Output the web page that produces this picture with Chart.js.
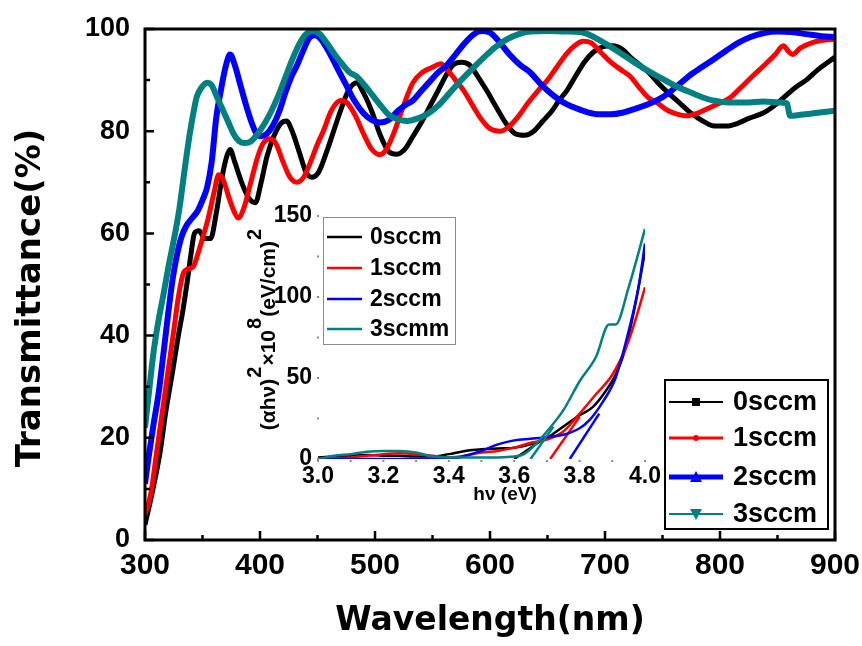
<!DOCTYPE html>
<html>
<head>
<meta charset="utf-8">
<script src="https://cdn.jsdelivr.net/npm/chart.js@4/dist/chart.umd.min.js"></script>
<style>
  html, body { margin: 0; padding: 0; background: #fff; }
  #wrap { position: relative; width: 862px; height: 646px; overflow: hidden; }
  #main { position: absolute; left: 0; top: 0; }
  #inset { position: absolute; left: 230px; top: 195px; }
</style>
</head>
<body>
<div id="wrap">
  <canvas id="main" width="862" height="646"></canvas>
  <canvas id="inset" width="440" height="315"></canvas>
</div>
<script>
// ---- Transmittance spectra (wavelength in nm, T in %) ----
const seriesNames = ['0sccm', '1sccm', '2sccm', '3sccm'];
const insetNames = ['0sccm', '1sccm', '2sccm', '3scmm'];
const seriesColors = ['#000000', '#ff0000', '#0000ff', '#008080'];

const wl0 = [300,305,313,318,324,329,333,337,340,343,347,352,357,362,367,371,374,378,384,390,396,401,406,412,418,423,428,434,440,445,451,458,464,470,477,484,490,497,505,512,519,526,533,541,548,555,562,568,575,582,590,597,606,614,622,630,638,646,654,660,667,675,682,690,698,707,715,722,730,738,746,755,765,775,785,795,806,815,825,838,850,860,867,875,885,900];
const t0  = [3,8,17,25,33,40,45,51,56,60,60.5,59,59,64,71,75,76.4,74,70,67,66,70,75,79,81.5,82,80,76,72,71,72,76,80,84,88,89.5,87.5,84,79,76,75.5,76.5,79,82,85,88,91,93,93.5,93,90.5,88,84.5,81.5,79.5,79.2,80,82,84,86,88,91,93.5,95.5,96.5,96.7,96,94.5,93,91.5,89.5,87.5,85.5,83.5,82,81,81,81.5,82.5,83.6,85.5,87.5,88.8,90,92,94.5];

const wl1 = [300,305,310,315,320,325,329,333,337,342,346,350,355,360,364,368,373,378,381,386,392,398,403,409,414,420,426,432,438,444,450,455,462,470,476,483,490,497,504,510,517,524,533,541,550,557,563,570,577,585,592,600,609,617,625,633,642,650,658,666,674,681,688,696,705,714,722,730,738,745,755,765,771,780,790,800,809,818,828,838,848,855,860,863,870,881,890,900];
const t1  = [5,9,17,25,33,41,47.5,52,53,53.5,56,59,63,68,71.5,70.5,67,64,63,65,70,75,77.7,78.5,77.5,74,71,70,71,74,77.5,80,84,86,85.5,83,79.5,76.5,75.4,76.5,80,84.5,89.5,91.5,92.5,93.2,92,90,88,85,82.5,80.5,80,81,83,85.5,88,90,92.5,95,96.8,97.6,97.3,95.5,93.5,92,90.7,88.5,86.5,85.6,84,83.2,83,83.5,84.5,85.5,86.6,88.5,90.7,92.8,95,96.7,95.5,95,96.3,97.4,97.8,98];

const wl2 = [300,303,307,312,316,320,324,328,332,336,341,346,350,354,358,362,366,370,374,378,383,388,393,397,401,406,411,417,422,427,432,438,443,448,453,460,468,475,482,490,497,504,512,520,527,533,540,548,555,562,570,578,585,592,600,608,617,626,635,645,655,664,675,685,695,705,715,728,740,751,762,773,784,794,805,815,826,838,850,862,875,888,900];
const t2  = [11,16,22,29,36.4,44,51,56,59.5,61.5,63,64.5,66.5,69,74,82.7,88,92.5,95,93,89,85,81.5,79.5,79,79.5,81,84,87.5,90.5,92.8,96,98.3,98.8,98,95.5,92,89,86,83.5,82.2,81.7,82.2,84,85.2,86,87.8,89.8,91.5,92.8,95,97.2,98.8,99.6,99.3,97.5,95,93,91.5,89,87,85.6,84.5,83.7,83.3,83.3,83.6,84.5,85.5,86.8,88.7,90.8,92.5,94,95.7,97.2,98.4,99.2,99.5,99.4,99,98.6,98.4];

const wl3 = [300,303,307,311,316,320,324,327,330,333,336,339,342,345,349,354,358,362,367,372,377,382,387,392,398,404,410,416,422,428,434,440,446,452,458,465,472,478,484,491,498,505,512,520,528,536,545,555,565,575,585,595,605,615,625,635,650,665,678,688,700,712,724,736,748,760,772,784,794,808,822,838,852,858,861,870,885,900];
const t3  = [22,28,36,42,48,53,57.5,61,65,70,75,79.6,83.5,86.7,88.5,89.5,89,87,84.5,82,79.5,78,77.7,78,79.5,81.5,84,87,90.5,94,97,99,99.6,99,97.3,95,93,91.5,90.7,89,87,85,83.2,82.3,82,82.4,83.3,85,87.5,90,92.3,94.5,96.5,98,99,99.5,99.6,99.5,99.4,98.7,97.2,95.5,93.7,92,90.5,89,87.8,86.7,86,85.6,85.6,85.8,85.6,85.5,83,83.2,83.6,84];

// ---- Tauc plot: photon energy (eV) vs (αhν)² ×10⁸ (eV/cm)² ----
const ev0 = [3.00,3.05,3.10,3.15,3.20,3.25,3.30,3.35,3.40,3.45,3.50,3.55,3.60,3.65,3.70,3.75,3.80,3.84,3.88,3.91,3.94,3.97,4.00];
const a0  = [1,1.5,2,2.5,2,2,1.5,1.5,3,5,6,6.5,7,9,13,20,27,32,42,52,68,95,128];
const ev1 = [3.00,3.05,3.10,3.15,3.20,3.25,3.30,3.35,3.40,3.45,3.50,3.55,3.60,3.65,3.70,3.75,3.80,3.85,3.90,3.95,3.98,4.00];
const a1  = [0,0.5,1,2,3,3.5,3,2,1,2,4,5,7,10,12,17,28,40,52,73,92,106];
const ev2 = [3.00,3.10,3.20,3.30,3.40,3.45,3.50,3.55,3.60,3.65,3.70,3.75,3.80,3.83,3.87,3.91,3.95,3.98,4.00];
const a2  = [0,0,0,0,0,2,5,9,11.5,12.5,13.5,15,19,24,35,50,79,106,133];
const ev3 = [3.00,3.05,3.10,3.15,3.20,3.25,3.30,3.35,3.40,3.45,3.50,3.55,3.60,3.63,3.66,3.70,3.75,3.80,3.85,3.89,3.91,3.95,4.00];
const a3  = [0,2,3,4.5,5,5,4,1.5,1,1,1,1,1.5,3,8,17,30,48,63,83,83,106,142];

// linear band-edge extrapolations: [start eV, end eV] and [start value, end value]
const fitEv = [[3.60,3.68],[3.71,3.80],[3.77,3.86],[3.65,3.72]];
const fitA  = [[0,11],[0,26],[0,28],[0,20]];

// tick values
const wlTicks = [300,400,500,600,700,800,900];
const tTicks = [0,20,40,60,80,100];
const evTicks = [3.0,3.2,3.4,3.6,3.8,4.0];
const aTicks = [0,50,100,150];

const pts = (xs, ys) => xs.map((x, i) => ({ x, y: ys[i] }));
const noEdgePad = s => { s.paddingLeft = 0; s.paddingRight = 0; s.paddingTop = 0; s.paddingBottom = 0; };

// ---------------- main chart ----------------
const mainWl = [wl0, wl1, wl2, wl3];
const mainT = [t0, t1, t2, t3];
const lineWidths = [5, 5, 6, 6];

const mainFrame = {
  id: 'mainFrame',
  afterDatasetsDraw(chart) {
    const { ctx, chartArea: a, scales: { x, y } } = chart;
    ctx.save();
    ctx.strokeStyle = '#000';
    ctx.lineWidth = 3;
    ctx.strokeRect(a.left, a.top, a.right - a.left, a.bottom - a.top);
    ctx.lineWidth = 2.5;
    ctx.beginPath();
    for (let i = 0; i < wlTicks.length; i++) {
      const px = x.getPixelForValue(wlTicks[i]);
      ctx.moveTo(px, a.bottom); ctx.lineTo(px, a.bottom - 9);
      if (i < wlTicks.length - 1) {
        const mx = x.getPixelForValue((wlTicks[i] + wlTicks[i + 1]) / 2);
        ctx.moveTo(mx, a.bottom); ctx.lineTo(mx, a.bottom - 5);
      }
    }
    for (let i = 0; i < tTicks.length; i++) {
      const py = y.getPixelForValue(tTicks[i]);
      ctx.moveTo(a.left, py); ctx.lineTo(a.left + 9, py);
      if (i < tTicks.length - 1) {
        const my = y.getPixelForValue((tTicks[i] + tTicks[i + 1]) / 2);
        ctx.moveTo(a.left, my); ctx.lineTo(a.left + 5, my);
      }
    }
    ctx.stroke();

    // y axis title
    ctx.fillStyle = '#000';
    ctx.font = 'bold 34px "DejaVu Sans"';
    ctx.textAlign = 'center';
    ctx.textBaseline = 'middle';
    ctx.translate(31, 298);
    ctx.rotate(-Math.PI / 2);
    ctx.fillText('Transmittance(%)', 0, 0);
    ctx.restore();

    // legend with line + marker samples
    ctx.save();
    const bx = 665, by = 380, bw = 163, bh = 149;
    ctx.fillStyle = '#fff';
    ctx.fillRect(bx, by, bw, bh);
    ctx.strokeStyle = '#000';
    ctx.lineWidth = 2;
    ctx.strokeRect(bx, by, bw, bh);
    const rows = [402, 438, 477, 514];
    const lw = [2, 3, 5, 2];
    chart.data.datasets.forEach((ds, i) => {
      const yy = rows[i];
      ctx.strokeStyle = ds.borderColor;
      ctx.fillStyle = ds.borderColor;
      ctx.lineWidth = lw[i];
      ctx.beginPath();
      ctx.moveTo(669, yy); ctx.lineTo(723, yy);
      ctx.stroke();
      const cx = 696;
      ctx.beginPath();
      if (i === 0) ctx.rect(cx - 4, yy - 4, 8, 8);
      else if (i === 1) ctx.arc(cx, yy, 3, 0, Math.PI * 2);
      else if (i === 2) { ctx.moveTo(cx, yy - 6); ctx.lineTo(cx + 6, yy + 5); ctx.lineTo(cx - 6, yy + 5); ctx.closePath(); }
      else { ctx.moveTo(cx - 6, yy - 5); ctx.lineTo(cx + 6, yy - 5); ctx.lineTo(cx, yy + 6); ctx.closePath(); }
      ctx.fill();
      ctx.fillStyle = '#000';
      ctx.font = 'bold 27px "Liberation Sans"';
      ctx.textAlign = 'left';
      ctx.textBaseline = 'middle';
      ctx.fillText(ds.label, 733, yy + 1);
    });
    ctx.restore();
  }
};

new Chart(document.getElementById('main'), {
  type: 'line',
  data: {
    datasets: seriesNames.map((name, i) => ({
      label: name,
      data: pts(mainWl[i], mainT[i]),
      borderColor: seriesColors[i],
      borderWidth: lineWidths[i],
      pointRadius: 0,
      cubicInterpolationMode: 'monotone',
      order: 4 - i
    }))
  },
  options: {
    responsive: false,
    animation: false,
    events: [],
    layout: { padding: { top: 29, right: 27, left: 0, bottom: 0 } },
    plugins: { legend: { display: false }, tooltip: { enabled: false } },
    scales: {
      x: {
        type: 'linear', min: 300, max: 900,
        afterBuildTicks: s => { s.ticks = wlTicks.map(v => ({ value: v })); },
        ticks: { color: '#000', font: { family: 'Liberation Sans', weight: 'bold', size: 30 }, padding: 8, maxRotation: 0 },
        grid: { display: false, drawTicks: false },
        border: { display: false },
        title: { display: true, text: 'Wavelength(nm)', color: '#000',
                 font: { family: 'DejaVu Sans', weight: 'bold', size: 33 }, padding: { top: 0, bottom: 5 } },
        afterFit: s => { s.height = 106; noEdgePad(s); }
      },
      y: {
        type: 'linear', min: 0, max: 100,
        afterBuildTicks: s => { s.ticks = tTicks.map(v => ({ value: v })); },
        ticks: { color: '#000', font: { family: 'Liberation Sans', weight: 'bold', size: 27 }, padding: 15 },
        grid: { display: false, drawTicks: false },
        border: { display: false },
        afterFit: s => { s.width = 145; noEdgePad(s); }
      }
    }
  },
  plugins: [mainFrame]
});

// ---------------- inset chart ----------------
const insetEv = [ev0, ev1, ev2, ev3];
const insetA = [a0, a1, a2, a3];

const insetDeco = {
  id: 'insetDeco',
  afterDatasetsDraw(chart) {
    const { ctx, chartArea: a, scales: { x, y } } = chart;
    ctx.save();
    // small tick dots
    ctx.fillStyle = '#8a8a8a';
    for (let v = 3.0; v <= 4.0001; v += 0.1) {
      const px = x.getPixelForValue(v);
      ctx.fillRect(px - 1, a.bottom + 1, 2, 2);
    }
    for (let v = 0; v <= 150; v += 25) {
      const py = y.getPixelForValue(v);
      ctx.fillRect(a.left - 1, py - 1, 2, 2);
    }

    // legend
    const bx = 93, by = 22, bw = 132, bh = 127;
    ctx.fillStyle = '#fff';
    ctx.fillRect(bx, by, bw, bh);
    ctx.strokeStyle = '#8c8c8c';
    ctx.lineWidth = 1;
    ctx.strokeRect(bx + 0.5, by + 0.5, bw, bh);
    const rows = [42, 73, 104, 134];
    insetNames.forEach((name, i) => {
      ctx.strokeStyle = seriesColors[i];
      ctx.lineWidth = 2.5;
      ctx.beginPath();
      ctx.moveTo(97, rows[i]); ctx.lineTo(132, rows[i]);
      ctx.stroke();
      ctx.fillStyle = '#000';
      ctx.font = 'bold 23px "Liberation Sans"';
      ctx.textAlign = 'left';
      ctx.textBaseline = 'middle';
      ctx.fillText(name, 140, rows[i] + 1);
    });

    // x axis title
    ctx.fillStyle = '#000';
    ctx.font = 'bold 19px "Liberation Sans"';
    ctx.textAlign = 'center';
    ctx.textBaseline = 'middle';
    ctx.fillText('hν (eV)', a.left + (a.right - a.left) * 0.572, a.bottom + 36);

    // y axis title with superscripts
    const parts = [
      ['(αhν)', false], ['2', true], ['×10', false], ['8', true], ['(eV/cm)', false], ['2', true]
    ];
    const baseFont = 'bold 21px "Liberation Sans"';
    const supFont = 'bold 20px "Liberation Sans"';
    let total = 0;
    parts.forEach(([t, sup]) => { ctx.font = sup ? supFont : baseFont; total += ctx.measureText(t).width + 1; });
    ctx.translate(36, 134);
    ctx.rotate(-Math.PI / 2);
    ctx.textAlign = 'left';
    ctx.textBaseline = 'middle';
    let cx = -total / 2;
    parts.forEach(([t, sup]) => {
      ctx.font = sup ? supFont : baseFont;
      ctx.fillText(t, cx, sup ? -11 : 3);
      cx += ctx.measureText(t).width + 1;
    });
    ctx.restore();
  }
};

const insetSets = [];
insetNames.forEach((name, i) => {
  insetSets.push({
    label: name,
    data: pts(insetEv[i], insetA[i]),
    borderColor: seriesColors[i],
    borderWidth: 2.5,
    pointRadius: 0,
    cubicInterpolationMode: 'monotone',
    order: 4 - i
  });
});
fitEv.forEach((xs, i) => {
  insetSets.push({
    label: insetNames[i] + ' fit',
    data: pts(xs, fitA[i]),
    borderColor: seriesColors[i],
    borderWidth: 2.5,
    pointRadius: 0,
    order: 4 - i
  });
});

new Chart(document.getElementById('inset'), {
  type: 'line',
  data: { datasets: insetSets },
  options: {
    responsive: false,
    animation: false,
    events: [],
    layout: { padding: { top: 21, right: 25, left: 0, bottom: 0 } },
    plugins: { legend: { display: false }, tooltip: { enabled: false } },
    scales: {
      x: {
        type: 'linear', min: 3.0, max: 4.0,
        afterBuildTicks: s => { s.ticks = evTicks.map(v => ({ value: v })); },
        ticks: { color: '#000', font: { family: 'Liberation Sans', weight: 'bold', size: 23 }, padding: 4,
                 maxRotation: 0, autoSkip: false, callback: v => Number(v).toFixed(1) },
        grid: { display: false, drawTicks: false },
        border: { display: false },
        afterFit: s => { s.height = 51; noEdgePad(s); }
      },
      y: {
        type: 'linear', min: 0, max: 150,
        afterBuildTicks: s => { s.ticks = aTicks.map(v => ({ value: v })); },
        ticks: { color: '#000', font: { family: 'Liberation Sans', weight: 'bold', size: 23 }, padding: 6 },
        grid: { display: false, drawTicks: false },
        border: { display: false },
        afterFit: s => { s.width = 88; noEdgePad(s); }
      }
    }
  },
  plugins: [insetDeco]
});
</script>
</body>
</html>
